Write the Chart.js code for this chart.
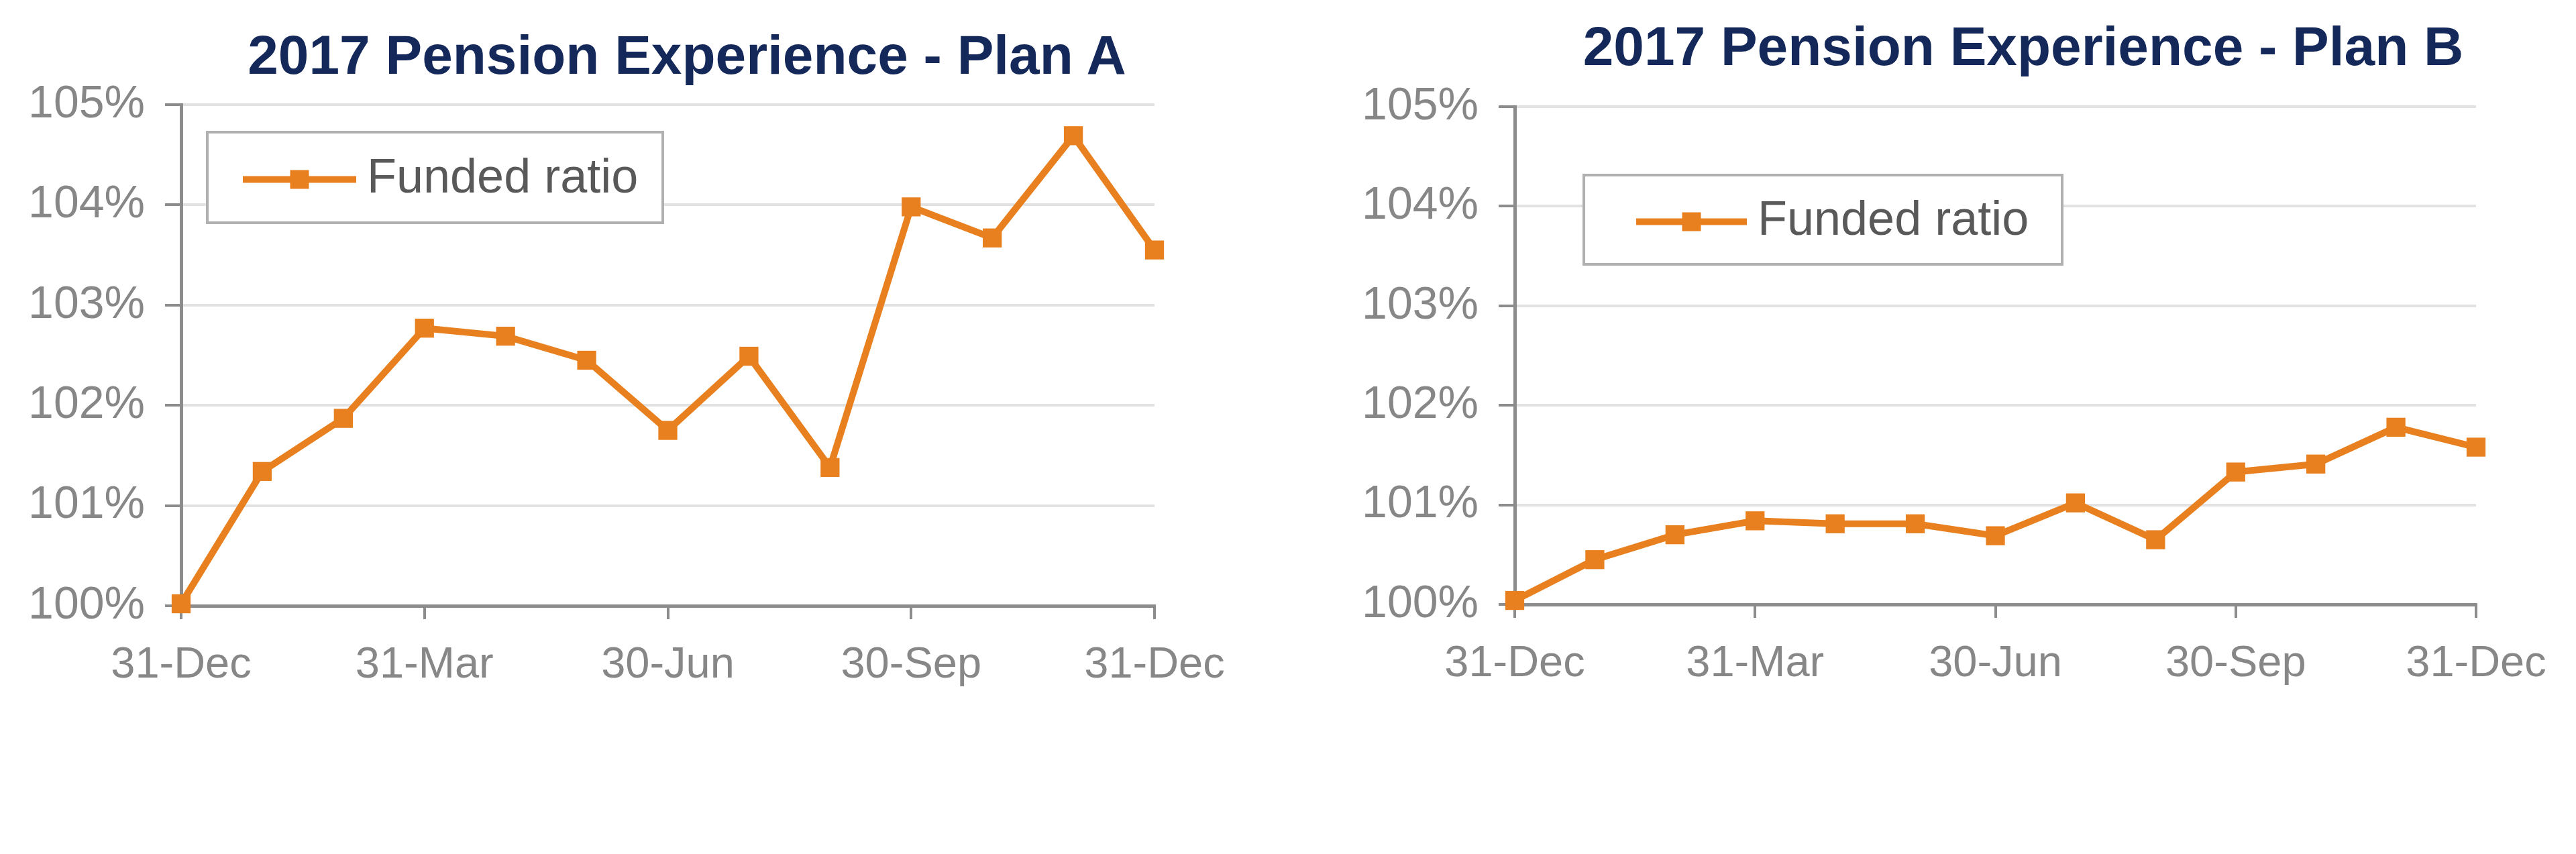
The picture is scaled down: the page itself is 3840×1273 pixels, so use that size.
<!DOCTYPE html>
<html>
<head>
<meta charset="utf-8">
<script src="https://cdn.jsdelivr.net/npm/chart.js@4.4.1/dist/chart.umd.min.js"></script>
<style>
    body {
        margin: 0;
        width: 3840px;
        height: 1273px;
        background: #fff;
        overflow: hidden;
        position: relative;
        font-family: "Liberation Sans", Arial, sans-serif;
    }
    .title {
        position: absolute;
        font-weight: bold;
        font-size: 82px;
        line-height: 82px;
        color: #14285a;
        white-space: nowrap;
        transform: translateX(-50%);
    }
    .wrap {
        position: absolute;
        top: 0;
        height: 1273px;
    }
</style>
</head>
<body>
<div class="title" style="left:1024px; top:41px;">2017 Pension Experience - Plan A</div>
<div class="title" style="left:3016px; top:28px;">2017 Pension Experience - Plan B</div>
<div class="wrap" style="left:0; width:1900px;"><canvas id="chartA"></canvas></div>
<div class="wrap" style="left:1950px; width:1890px;"><canvas id="chartB"></canvas></div>

<script>
// month-end dates, 31-Dec-2016 to 31-Dec-2017
const dates = [
    "31-Dec", "31-Jan", "28-Feb", "31-Mar", "30-Apr", "31-May", "30-Jun",
    "31-Jul", "31-Aug", "30-Sep", "31-Oct", "30-Nov", "31-Dec",
];
// funded ratio in %
const planA = [100.02, 101.34, 101.87, 102.77, 102.69, 102.45, 101.75, 102.49, 101.38, 103.98, 103.67, 104.69, 103.55];
const planB = [100.04, 100.45, 100.70, 100.84, 100.81, 100.81, 100.69, 101.02, 100.65, 101.33, 101.41, 101.78, 101.58];
const seriesName = "Funded ratio";
const yMin = 100;
const yMax = 105;
const yStep = 1;
const labelEvery = 3;

const orange = "#E8801F";
const axisGrey = "#8c8c8c";
const fontFamily = "'Liberation Sans', Arial, sans-serif";

// legend drawn inside the plot, with a box round it
const boxLegend = {
    id: "boxLegend",
    afterDraw(chart, args, opts) {
        const ctx = chart.ctx;
        const ds = chart.data.datasets[0];
        const my = opts.y + opts.h / 2 + 3;
        ctx.save();
        ctx.fillStyle = "#ffffff";
        ctx.fillRect(opts.x, opts.y, opts.w, opts.h);
        ctx.strokeStyle = "#b0b0b0";
        ctx.lineWidth = 4;
        ctx.strokeRect(opts.x, opts.y, opts.w, opts.h);

        ctx.strokeStyle = ds.borderColor;
        ctx.lineWidth = ds.borderWidth;
        ctx.beginPath();
        ctx.moveTo(opts.lineX, my);
        ctx.lineTo(opts.lineX + opts.lineW, my);
        ctx.stroke();
        ctx.fillStyle = ds.borderColor;
        const s = 28;
        ctx.fillRect(opts.lineX + opts.lineW / 2 - s / 2, my - s / 2, s, s);

        ctx.fillStyle = "#595959";
        ctx.font = "72px " + fontFamily;
        ctx.textBaseline = "middle";
        ctx.textAlign = "left";
        ctx.fillText(ds.label, opts.textX, my);
        ctx.restore();
    },
};

function makeChart(id, values, area, legend) {
    const ctx = document.getElementById(id);
    if (!ctx) {
        console.error("Canvas " + id + " not found.");
        return;
    }
    new Chart(ctx, {
        type: "line",
        data: {
            labels: dates,
            datasets: [
                {
                    label: seriesName,
                    data: values,
                    borderColor: orange,
                    backgroundColor: orange,
                    borderWidth: 10,
                    pointStyle: "rect",
                    pointRadius: 20,
                    pointBackgroundColor: orange,
                    pointBorderWidth: 0,
                    tension: 0,
                    clip: false,
                },
            ],
        },
        options: {
            responsive: true,
            maintainAspectRatio: false,
            animation: false,
            layout: {
                padding: {
                    left: 0,
                    right: area.right,
                    top: area.top,
                    bottom: area.bottom,
                },
            },
            plugins: {
                legend: { display: false },
                tooltip: { enabled: false },
                boxLegend: legend,
            },
            scales: {
                x: {
                    type: "category",
                    afterFit: (scale) => {
                        scale.height = 150;
                    },
                    grid: {
                        drawOnChartArea: false,
                        drawTicks: true,
                        tickLength: 20,
                        lineWidth: 4,
                        tickColor: (c) => (c.index % labelEvery === 0 ? axisGrey : "rgba(0,0,0,0)"),
                    },
                    border: { display: true, color: axisGrey, width: 5 },
                    ticks: {
                        autoSkip: false,
                        maxRotation: 0,
                        padding: 30,
                        color: "#878787",
                        font: { size: 65, family: fontFamily },
                        callback: (v, i) => (i % labelEvery === 0 ? dates[i] : ""),
                    },
                },
                y: {
                    min: yMin,
                    max: yMax,
                    afterFit: (scale) => {
                        scale.width = area.left;
                    },
                    grid: {
                        color: "#e2e2e2",
                        lineWidth: 4,
                        tickLength: 24,
                        tickColor: axisGrey,
                        tickWidth: 4,
                    },
                    border: { display: true, color: axisGrey, width: 5 },
                    ticks: {
                        stepSize: yStep,
                        padding: 30,
                        color: "#878787",
                        font: { size: 68, family: fontFamily },
                        callback: (v) => v + "%",
                    },
                },
            },
        },
        plugins: [boxLegend],
    });
}

document.addEventListener("DOMContentLoaded", function () {
    makeChart(
        "chartA",
        planA,
        { left: 270, right: 179, top: 156, bottom: 220 },
        { x: 309, y: 197, w: 679, h: 135, lineX: 362, lineW: 169, textX: 547 }
    );
    makeChart(
        "chartB",
        planB,
        { left: 308, right: 149, top: 159, bottom: 222 },
        { x: 411, y: 261, w: 713, h: 133, lineX: 489, lineW: 165, textX: 670 }
    );
});
</script>
</body>
</html>
